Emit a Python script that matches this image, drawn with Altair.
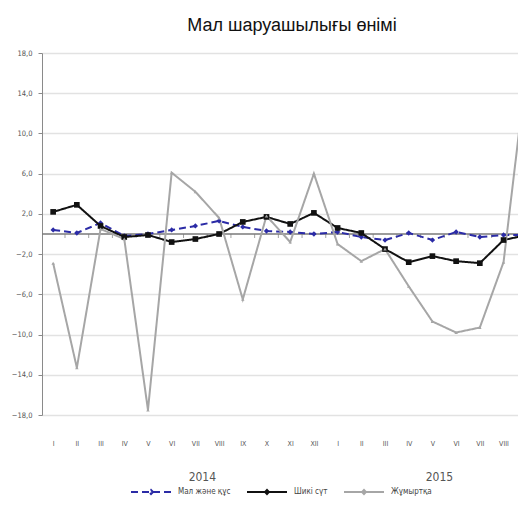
import altair as alt
import pandas as pd

months = ["I", "II", "III", "IV", "V", "VI", "VII", "VIII", "IX", "X", "XI", "XII",
          "I", "II", "III", "IV", "V", "VI", "VII", "VIII", "IX"]
series_names = ["Мал және құс", "Шикі сүт", "Жұмыртқа"]
mal_zhane_kus = [0.4, 0.1, 1.1, -0.2, 0.0, 0.4, 0.8, 1.3, 0.7, 0.3, 0.2, 0.0,
                 0.2, -0.3, -0.6, 0.1, -0.6, 0.2, -0.3, -0.1, -0.1]
shiki_sut = [2.2, 2.9, 0.8, -0.3, -0.1, -0.8, -0.5, 0.0, 1.2, 1.7, 1.0, 2.1,
             0.6, 0.1, -1.5, -2.8, -2.2, -2.7, -2.9, -0.6, -0.1]
zhumyrtka = [-2.9, -13.3, 0.5, -0.5, -17.5, 6.1, 4.2, 1.6, -6.5, 1.8, -0.8, 6.0,
             -1.0, -2.7, -1.5, -5.2, -8.7, -9.8, -9.3, -2.8, 17.0]
years = ["2014", "2015"]
year_anchor_month = [6, 16]  # index of the month each year label sits under
y_ticks = [-18, -14, -10, -6, -2, 2, 6, 10, 14, 18]

colors = ["#2b2ba6", "#111111", "#a6a6a6"]
marker_shapes = ["diamond", "square", "triangle-up"]
marker_sizes = [28, 32, 12]
legend_symbol = "M-1,0L1,0M0,-0.1L0.1,0L0,0.1L-0.1,0Z"
FONT = "'DejaVu Sans Condensed', 'Liberation Sans', Arial, sans-serif"
TFONT = "'Liberation Sans', Arial, sans-serif"

rows = []
for name, vals in zip(series_names, [mal_zhane_kus, shiki_sut, zhumyrtka]):
    for i, v in enumerate(vals):
        rows.append({"idx": i, "month": months[i], "series": name, "value": v})
df = pd.DataFrame(rows)

label_expr = "[" + ",".join("'" + m + "'" for m in months) + "][datum.value]"

x_axis = alt.Axis(values=list(range(len(months))), labelExpr=label_expr,
                  title=None, grid=False, domain=False, ticks=False,
                  labelPadding=24, labelFontSize=7, labelColor="#555",
                  labelFont=FONT, labelFlush=False, labelOverlap=False)
x_scale = alt.Scale(domain=[-0.47, 19.61], nice=False, zero=False)
y_axis = alt.Axis(values=y_ticks, format=".1f",
                  labelExpr="replace(datum.label, '.', ',')",
                  title=None, grid=True, gridColor="#e2e2e2", gridWidth=1.5,
                  domainColor="#8a8a8a", tickColor="#8a8a8a", tickSize=4,
                  labelFontSize=7.5, labelColor="#555", labelFont=FONT,
                  labelPadding=6)
y_scale = alt.Scale(domain=[-18, 18], nice=False, zero=False)


def X(field):
    return alt.X(field, scale=x_scale, axis=x_axis)


def Y(field):
    return alt.Y(field, scale=y_scale, axis=y_axis)


lines = alt.Chart(df).mark_line(clip=True).encode(
    x=X("idx:Q"),
    y=Y("value:Q"),
    color=alt.Color("series:N", sort=series_names, title=None,
                    scale=alt.Scale(domain=series_names, range=colors),
                    legend=alt.Legend(orient="none", legendX=88, legendY=418,
                                      direction="horizontal", symbolType=legend_symbol,
                                      symbolSize=1600, symbolStrokeWidth=2,
                                      labelFont=FONT, labelFontSize=8,
                                      labelColor="#444", columnPadding=12,
                                      labelOffset=6, padding=0)),
    strokeDash=alt.StrokeDash("series:N", sort=series_names, title=None,
                              scale=alt.Scale(domain=series_names,
                                              range=[[7, 4], [1, 0], [1, 0]])),
    strokeWidth=alt.StrokeWidth("series:N", legend=None,
                                scale=alt.Scale(domain=series_names, range=[2, 2, 1])),
    order="idx:Q",
)

point_layers = []
for name, col, shp, sz in zip(series_names, colors, marker_shapes, marker_sizes):
    point_layers.append(
        alt.Chart(df).transform_filter(alt.datum.series == name)
        .mark_point(filled=True, clip=True, opacity=1, color=col, shape=shp, size=sz)
        .encode(x=X("idx:Q"), y=Y("value:Q"))
    )

zero_df = pd.DataFrame({"zero": [0]})
zero_line = alt.Chart(zero_df).mark_rule(color="#7a7a7a", strokeWidth=1.3).encode(
    y=Y("zero:Q"))

bounds_df = pd.DataFrame({"b": [i + 0.5 for i in range(len(months) - 1)], "zero": 0})
zero_ticks = alt.Chart(bounds_df).mark_tick(
    orient="vertical", size=4, thickness=1, color="#7a7a7a", yOffset=2, clip=True
).encode(x=X("b:Q"), y=Y("zero:Q"))

year_df = pd.DataFrame({"year": years, "idx": year_anchor_month})
year_text = alt.Chart(year_df).mark_text(
    font=FONT, fontSize=12, color="#555", baseline="middle", dx=7
).encode(x=X("idx:Q"), y=alt.value(424), text="year:N")

chart = alt.layer(zero_line, zero_ticks, lines, *point_layers, year_text).properties(
    width=476, height=362,
    autosize=alt.AutoSizeParams(type="none"),
    padding={"left": 34, "top": 45, "right": 0, "bottom": 82},
    title=alt.TitleParams("Мал шаруашылығы өнімі", font=TFONT, fontSize=18,
                          fontWeight="normal", color="#111", anchor="middle",
                          offset=14, dx=12),
).configure_view(stroke=None)

chart.save("out.html", embed_options={"renderer": "svg", "actions": False})
